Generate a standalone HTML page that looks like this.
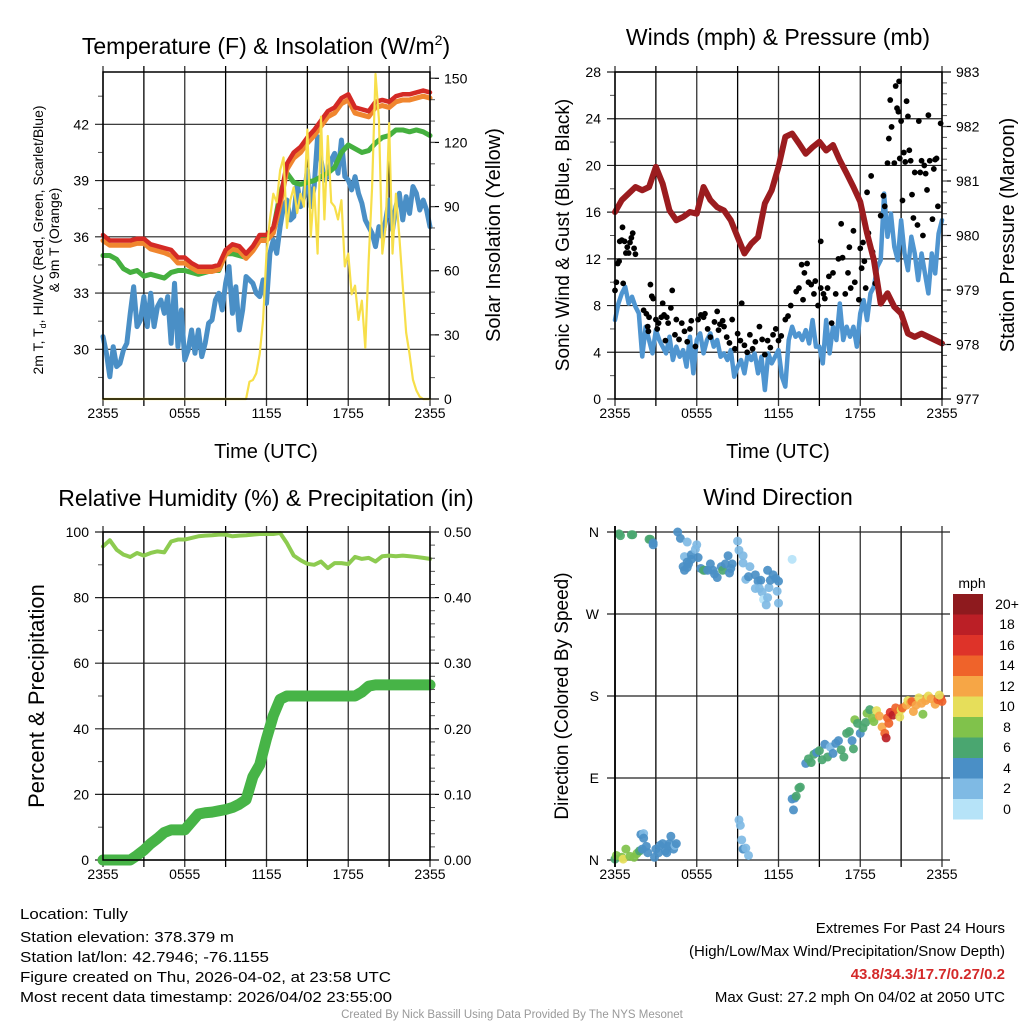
<!DOCTYPE html>
<html><head><meta charset="utf-8"><title>Mesonet Tully</title>
<style>
html,body{margin:0;padding:0;background:#fff;}
svg{display:block;font-family:"Liberation Sans",Arial,sans-serif;}
</style></head>
<body>
<svg id="fig" width="1024" height="1024" viewBox="0 0 1024 1024" xmlns="http://www.w3.org/2000/svg">
<rect x="0" y="0" width="1024" height="1024" fill="#fff"/>
<g id="layer-grid"></g>
<g id="layer-data"></g>
<g id="layer-axes"></g>

<text x="266" y="54" font-size="23" text-anchor="middle">Temperature (F) &amp; Insolation (W/m<tspan dy="-9" font-size="14">2</tspan><tspan dy="9">)</tspan></text>
<text x="778" y="45" font-size="23" text-anchor="middle">Winds (mph) &amp; Pressure (mb)</text>
<text x="266" y="506" font-size="23" text-anchor="middle">Relative Humidity (%) &amp; Precipitation (in)</text>
<text x="778" y="505" font-size="23" text-anchor="middle">Wind Direction</text>

<text transform="translate(43,240) rotate(-90)" font-size="14" text-anchor="middle">2m T, T<tspan font-size="9" dy="3">d</tspan><tspan dy="-3">, HI/WC (Red, Green, Scarlet/Blue)</tspan></text>
<text transform="translate(59,240) rotate(-90)" font-size="14" text-anchor="middle">&amp; 9m T (Orange)</text>
<text transform="translate(500,235) rotate(-90)" font-size="20" text-anchor="middle">Solar Insolation (Yellow)</text>
<text x="266" y="458" font-size="20" text-anchor="middle">Time (UTC)</text>

<text transform="translate(569,235) rotate(-90)" font-size="19" text-anchor="middle">Sonic Wind &amp; Gust (Blue, Black)</text>
<text transform="translate(1014,235) rotate(-90)" font-size="20" text-anchor="middle">Station Pressure (Maroon)</text>
<text x="778" y="458" font-size="20" text-anchor="middle">Time (UTC)</text>

<text transform="translate(44,696) rotate(-90)" font-size="22" text-anchor="middle">Percent &amp; Precipitation</text>
<text transform="translate(568,696) rotate(-90)" font-size="19" text-anchor="middle">Direction (Colored By Speed)</text>

<g>
<text x="972" y="588" font-size="14" text-anchor="middle">mph</text>
<rect x="953" y="594" width="30" height="20.5" fill="#8e1a1e"/>
<rect x="953" y="614.5" width="30" height="20.5" fill="#bb1f26"/>
<rect x="953" y="635" width="30" height="20.5" fill="#de3329"/>
<rect x="953" y="655.5" width="30" height="20.5" fill="#ef632a"/>
<rect x="953" y="676" width="30" height="20.5" fill="#f6a646"/>
<rect x="953" y="696.5" width="30" height="20.5" fill="#e6de5a"/>
<rect x="953" y="717" width="30" height="20.5" fill="#80c24b"/>
<rect x="953" y="737.5" width="30" height="20.5" fill="#4aa670"/>
<rect x="953" y="758" width="30" height="20.5" fill="#4a8fc6"/>
<rect x="953" y="778.5" width="30" height="20.5" fill="#7fbae4"/>
<rect x="953" y="799" width="30" height="20.5" fill="#b6e3f8"/>
<g font-size="14" text-anchor="middle">
<text x="1007" y="609">20+</text>
<text x="1007" y="629">18</text>
<text x="1007" y="650">16</text>
<text x="1007" y="670">14</text>
<text x="1007" y="691">12</text>
<text x="1007" y="711">10</text>
<text x="1007" y="732">8</text>
<text x="1007" y="752">6</text>
<text x="1007" y="773">4</text>
<text x="1007" y="793">2</text>
<text x="1007" y="814">0</text>
</g>
</g>

<g font-size="14.5">
<text x="20" y="919" textLength="108" lengthAdjust="spacingAndGlyphs">Location: Tully</text>
<text x="20" y="942" textLength="214" lengthAdjust="spacingAndGlyphs">Station elevation: 378.379 m</text>
<text x="20" y="962" textLength="249" lengthAdjust="spacingAndGlyphs">Station lat/lon: 42.7946; -76.1155</text>
<text x="20" y="982" textLength="371" lengthAdjust="spacingAndGlyphs">Figure created on Thu, 2026-04-02, at 23:58 UTC</text>
<text x="20" y="1002" textLength="372" lengthAdjust="spacingAndGlyphs">Most recent data timestamp: 2026/04/02 23:55:00</text>
</g>
<g font-size="15" text-anchor="end">
<text x="1005" y="933">Extremes For Past 24 Hours</text>
<text x="1005" y="956">(High/Low/Max Wind/Precipitation/Snow Depth)</text>
<text x="1005" y="979" fill="#d42a2a" font-weight="bold">43.8/34.3/17.7/0.27/0.2</text>
<text x="1005" y="1002">Max Gust: 27.2 mph On 04/02 at 2050 UTC</text>
</g>
<text x="512" y="1018" font-size="11.5" fill="#999" text-anchor="middle">Created By Nick Bassill Using Data Provided By The NYS Mesonet</text>
</svg>

<script>
// ---------- DATA ----------
const timeTickLabels = ['2355','0555','1155','1755','2355'];
const tempTickLabels = [30,33,36,39,42];
const solarTickLabels = [0,30,60,90,120,150];
const windTickLabels = [0,4,8,12,16,20,24,28];
const pressureTickLabels = [977,978,979,980,981,982,983];
const rhTickLabels = [0,20,40,60,80,100];
const precipTickLabels = ['0.00','0.10','0.20','0.30','0.40','0.50'];
const dirTickLabels = ['N','E','S','W','N'];

// half-hourly (49 values, 2355 -> 2355)
const airTemp = [36.1,35.8,35.8,35.8,35.8,35.9,35.9,35.6,35.5,35.4,35.3,34.9,34.9,34.6,34.4,34.4,34.4,34.5,35.3,35.6,35.5,35.1,35.5,36.1,36.1,36.5,38.0,39.9,40.5,40.8,41.3,41.7,42.2,42.7,42.9,43.4,43.6,42.9,42.8,42.7,43.2,43.3,43.2,43.5,43.6,43.6,43.7,43.8,43.7];
const temp9m = [35.8,35.55,35.55,35.55,35.55,35.65,35.65,35.35,35.25,35.15,35.0,34.6,34.6,34.35,34.15,34.15,34.15,34.25,35.05,35.35,35.25,34.85,35.25,35.8,35.8,36.2,37.7,39.6,40.2,40.5,41.0,41.4,41.9,42.4,42.6,43.1,43.3,42.6,42.5,42.4,42.9,43.0,42.9,43.2,43.3,43.3,43.4,43.5,43.4];
const heatIndex = [35.0,35.0,34.8,34.3,34.1,34.2,33.9,34.0,33.9,33.8,34.1,34.2,34.2,34.1,34.0,34.1,34.2,34.2,35.1,35.1,35.0,34.9,35.3,35.9,36.0,36.4,38.3,39.4,38.9,38.8,38.9,39.0,39.2,39.4,39.7,40.5,40.9,40.7,40.5,40.6,41.0,41.3,41.4,41.7,41.7,41.6,41.7,41.6,41.4];
// quarter-hourly (97 values)
const dewPoint = [30.68,29.79,28.54,30.14,29.08,29.25,29.96,30.32,31.92,33.34,31.21,31.56,32.81,31.21,32.99,31.21,32.28,32.63,31.92,32.81,30.32,33.52,30.14,32.1,29.43,29.96,31.03,29.79,31.03,29.61,30.32,31.39,31.56,32.63,32.99,32.1,33.52,34.41,31.92,33.34,31.03,32.1,33.88,33.7,33.52,32.99,32.81,33.7,32.45,35.12,35.83,35.12,36.54,37.61,37.96,36.9,37.08,38.85,37.61,38.14,39.56,37.61,38.68,41.34,40.1,39.03,39.21,40.1,40.45,39.39,41.16,39.21,39.03,38.5,39.21,38.32,37.79,36.9,36.54,36.19,35.48,36.54,36.01,36.9,37.96,36.36,37.61,38.32,36.9,38.14,37.25,38.68,38.32,37.43,37.96,37.43,36.54];
const insolation = [0,0,0,0,0,0,0,0,0,0,0,0,0,0,0,0,0,0,0,0,0,0,0,0,0,0,0,0,0,0,0,0,0,0,0,0,0,0,0,0,0,0,0,8.1,8.9,12,21,37,68,84,96,92,107,113,80,93,99,87,96,90,126,76,99,68,132,84,123,92,90,84,93,62,68,49,53,37,46,24,65,99,152,131,68,81,129,68,96,76,53,31,21,9,4,1,0,0,0];
const windSpeed = [6.76,8.18,9.04,9.61,8.18,8.75,7.9,7.33,3.64,6.19,5.05,3.91,5.9,5.05,4.48,3.91,5.33,3.34,4.48,3.62,4.19,2.77,5.33,2.2,5.05,5.62,3.91,5.05,5.62,4.48,5.05,3.62,3.91,3.34,4.19,1.91,2.77,3.34,2.2,3.91,3.34,3.91,2.2,3.62,0.77,3.91,3.05,3.62,4.19,1.91,1.06,5.05,6.19,5.33,5.62,5.05,5.9,4.76,6.76,4.48,4.48,3.05,6.76,3.91,6.19,5.05,8.18,5.05,6.19,5.33,6.19,4.48,7.33,8.47,6.76,9.04,9.61,11.32,11.89,17.59,13.89,15.88,13.03,11.89,15.31,12.46,11.03,13.89,12.46,10.18,12.46,10.75,9.04,12.46,10.75,14.17,15.31];
const pressure = [980.43,980.65,980.77,980.89,980.83,980.89,981.26,980.95,980.46,980.28,980.34,980.43,980.40,980.89,980.65,980.52,980.46,980.28,979.97,979.67,979.85,979.97,980.59,980.83,981.26,981.81,981.87,981.69,981.50,981.62,981.72,981.56,981.66,981.38,981.14,980.89,980.62,980.04,979.55,978.75,978.94,978.69,978.57,978.20,978.14,978.20,978.14,978.08,978.02];
const gustHours = [0,0.1,0.2,0.3,0.35,0.5,0.55,0.6,0.7,0.8,0.9,1.0,1.1,1.2,1.3,1.4,1.5,2.1,2.3,2.4,2.45,2.5,2.6,2.7,2.8,3.0,3.1,3.2,3.4,3.5,3.6,3.7,3.8,3.9,4.1,4.2,4.4,4.5,4.7,4.9,5.1,5.3,5.5,5.6,5.9,6.1,6.3,6.5,6.6,6.8,7.0,7.3,7.5,7.6,7.7,7.9,8.0,8.2,8.4,8.6,8.8,9.0,9.2,9.3,9.5,9.7,9.9,10.1,10.3,10.6,10.8,11.0,11.2,11.4,11.6,11.8,12.0,12.2,12.5,12.7,12.9,13.3,13.5,13.7,13.8,13.9,14.1,14.2,14.4,14.6,14.7,14.9,15.1,15.1,15.3,15.4,15.6,15.7,15.9,16.0,16.2,16.4,16.6,16.7,16.9,17.1,17.2,17.3,17.5,17.6,17.9,18.0,18.1,18.2,18.3,18.4,18.5,18.6,18.8,18.9,19.1,19.5,19.7,19.8,20.0,20.1,20.3,20.2,20.5,20.6,20.7,20.8,20.9,21.0,21.1,21.2,21.3,21.4,21.5,21.6,21.7,21.8,21.9,22.0,22.2,22.3,22.4,22.5,22.6,22.7,22.8,22.9,23.0,23.1,23.3,23.4,23.5,23.6,23.7,23.9,20.85];
const gustSpeeds = [9.3,10,11.6,11.8,13.5,13.6,14.7,9.9,13.5,12.5,13,12.5,13.4,13.8,14.2,12.9,12.4,7.6,7.3,6.2,5.8,7.0,9.8,8.8,8.6,6.8,6.0,6.5,7.0,8.2,7.2,5.0,7.0,6.5,7.8,9.3,5.5,6.8,5.1,6.5,5.8,4.9,6.0,6.7,4.5,6.8,7.2,7.0,7.3,6.0,5.3,6.6,7.5,5.9,6.4,6.7,6.2,5.3,4.8,6.8,4.3,5.6,5.0,8.2,4.6,4.0,5.5,4.3,4.9,6.2,5.1,3.8,5.0,4.4,5.5,6.0,5.0,5.4,6.8,7.1,8.0,9.2,9.5,11.5,8.5,10.8,11.6,10.0,9.8,9.0,10.1,8.0,13.5,9.5,9.0,8.6,9.5,10.5,6.5,10.8,9.0,12.0,15.0,12.1,9.0,10.8,13.0,9.5,14.4,10.0,8.5,12.9,11.2,13.4,11.8,9.5,17.7,14.2,19.1,12.6,9.9,15.7,17.4,16.5,20.2,22.3,23.3,25.6,20.2,26.8,24.9,24.6,20.6,23.8,17.0,21.1,20.3,25.5,24.2,21.3,20.4,17.5,15.5,19.4,14.9,23.8,19.4,20.4,14.0,20.0,19.3,17.9,24.3,20.4,15.4,19.7,20.5,20.6,16.5,23.6,27.2];
const relHumidity = [95.6,97.5,94.6,93.1,92.4,93.6,92.8,93.6,94.1,93.8,97.1,97.7,97.7,98.2,98.7,98.9,99.0,99.2,99.2,98.7,98.9,99.0,99.2,99.4,99.4,99.4,99.7,96.6,92.8,91.4,90.3,90.0,91.0,89.0,90.5,90.5,90.2,92.4,91.8,92.1,91.0,92.6,92.8,92.6,92.8,92.6,92.4,92.1,91.8];
const precipAccum = [0,0,0,0,0,0.007,0.015,0.025,0.033,0.042,0.046,0.046,0.046,0.058,0.07,0.072,0.073,0.075,0.077,0.08,0.085,0.092,0.127,0.145,0.185,0.22,0.245,0.25,0.25,0.25,0.25,0.25,0.25,0.25,0.25,0.25,0.25,0.25,0.256,0.265,0.267,0.267,0.267,0.267,0.267,0.267,0.267,0.267,0.267];
const dirHours = [0.3,0.4,1.2,1.3,2.5,2.6,2.8,2.8,4.6,4.8,5.3,5.1,5.3,5.6,5.0,5.1,5.3,5.4,5.6,6.0,5.9,6.1,6.3,6.5,6.6,6.8,7.0,7.2,7.5,7.3,7.8,7.9,8.1,8.3,8.4,8.5,8.6,9.0,9.1,9.4,9.4,9.6,9.8,9.9,10.3,10.5,10.7,10.3,10.6,10.8,10.9,11.1,11.2,11.3,11.2,11.4,11.6,11.8,12.0,11.9,12.0,13.0,
 0,0.1,0.5,0.6,0.8,1.1,1.4,1.6,1.8,2.0,1.9,2.1,2.1,2.3,2.4,2.9,3.0,3.2,3.3,3.5,3.7,3.8,3.9,4.0,4.1,4.3,4.4,4.5,
 9.1,9.2,9.3,9.4,9.6,9.8,
 13.0,13.1,13.2,13.3,13.5,13.6,14.0,14.2,14.4,14.6,14.8,15.0,15.2,15.4,15.6,15.8,16.0,16.2,16.4,16.6,16.8,17.0,17.2,17.4,17.5,17.6,17.8,18.0,18.2,18.4,18.5,18.7,18.9,19.0,19.2,19.4,19.6,19.8,19.9,20.0,20.1,20.2,20.4,20.6,20.8,20.9,21.0,21.1,21.4,21.5,21.7,21.8,21.9,22.1,22.3,22.5,22.6,22.8,22.9,23.0,23.2,23.5,23.7,23.9,24.0,23.8];
const dirDegrees = [358,356,357,357,352,352,346,348,360,353,349,333,327,335,322,318,321,325,330,346,341,332,320,318,318,318,325,318,310,314,322,318,325,334,315,320,325,350,340,334,326,308,311,322,313,306,307,298,298,294,286,280,288,299,318,307,313,309,306,295,282,330,
 1,5,3,1,12,4,3,7,10,12,28,29,24,15,8,3,12,8,16,18,10,8,15,18,26,12,16,18,
 44,38,22,12,13,5,
 67,55,68,70,79,80,106,111,107,116,118,120,110,127,113,124,117,128,131,121,113,139,141,131,122,154,150,139,145,151,161,165,156,152,164,158,146,139,134,156,150,162,159,167,163,157,165,167,170,175,173,174,163,170,178,172,160,175,178,180,177,171,176,178,174,181];
const dirSpeeds = [7,7,7,7,6,6,4,4,4,4,2,2,4,4,4,4,4,4,4,2,2,4,4,6,6,4,4,4,4,4,4,6,4,4,4,4,4,2,2,2,2,2,4,2,4,4,4,2,2,2,0,2,2,2,4,4,4,4,4,2,2,0,
 6,8,8,10,8,8,8,8,6,4,4,2,4,4,4,4,4,4,4,4,4,4,4,4,4,4,2,4,
 2,2,2,4,2,2,
 4,4,4,6,6,6,4,6,6,6,4,6,6,4,6,2,4,4,4,6,6,6,6,4,6,8,6,4,6,6,8,6,8,8,10,12,12,14,18,14,14,16,18,14,14,10,10,14,12,10,12,14,12,12,10,12,8,12,12,10,12,12,14,16,14,10];
const speedColors = ['#b6e3f8','#7fbae4','#4a8fc6','#4aa670','#80c24b','#e6de5a','#f6a646','#ef632a','#de3329','#bb1f26','#8e1a1e'];

// ---------- SCALES ----------
const NS = 'http://www.w3.org/2000/svg';
const L = {x0:103, x1:430}, R = {x0:615, x1:942};
const TOP = {y0:72, y1:399}, BOT = {y0:532, y1:860};
const xL = h => L.x0 + h * (L.x1 - L.x0) / 24;
const xR = h => R.x0 + h * (R.x1 - R.x0) / 24;
const yTemp = t => 399 - (t - 27.35) * 18.75;
const ySolar = s => 399 - s * 2.138;
const yWind = v => 399 - v * 327 / 28;
const yPres = p => 399 - (p - 977) * 327 / 6;
const yRH = r => 860 - r * 3.28;
const yPrecip = p => 860 - p * 656;
const yDir = d => 860 - d * 328 / 360;

const gGrid = document.getElementById('layer-grid');
const gData = document.getElementById('layer-data');
const gAxes = document.getElementById('layer-axes');
function mk(tag, attrs, parent){
  const e = document.createElementNS(NS, tag);
  for (const k in attrs) e.setAttribute(k, attrs[k]);
  parent.appendChild(e);
  return e;
}
function seriesPath(vals, xf, yf){
  const n = vals.length;
  let d = '';
  vals.forEach((v,i)=>{ const h = i*24/(n-1); d += (i?'L':'M') + xf(h).toFixed(2) + ',' + yf(v).toFixed(2); });
  return d;
}

// ---------- AXES / GRID ----------
function panel(box, yb, xf, leftVals, leftF, leftMinor, rightVals, rightF, rightMinor, key){
  for (let h = 0; h <= 24; h += 3){
    const ln = mk('line', {x1:xf(h), x2:xf(h), y1:yb.y0-6, y2:yb.y1+7, stroke:(h%6===0?'#333':'#000'), 'stroke-width':1.3}, gGrid);
    
    
  }
  timeTickLabels.forEach((lab,i)=>{
    const t = mk('text', {x:xf(i*6), y:yb.y1+19, 'font-size':14, 'text-anchor':'middle'}, gAxes);
    t.textContent = lab;
    
    
  });
  leftVals.forEach((v)=>{
    const y = leftF(v);
    const ln = mk('line', {x1:box.x0-8, x2:box.x1, y1:y, y2:y, stroke:'#222', 'stroke-width':1.2}, gGrid);
    
    
    const t = mk('text', {x:box.x0-14, y:y+5, 'font-size':14, 'text-anchor':'end'}, gAxes);
    t.textContent = v;
    
    
  });
  leftMinor.forEach((v)=>{
    const y = leftF(v);
    const ln = mk('line', {x1:box.x0-5, x2:box.x0, y1:y, y2:y, stroke:'#555', 'stroke-width':1}, gAxes);
    
    
  });
  if (rightVals){
    rightVals.forEach((v)=>{
      const y = rightF(typeof v === 'string' ? parseFloat(v) : v);
      const ln = mk('line', {x1:box.x1, x2:box.x1+9, y1:y, y2:y, stroke:'#000', 'stroke-width':1.2}, gAxes);
      
      
      const t = mk('text', {x:box.x1+14, y:y+5, 'font-size':14, 'text-anchor':'start'}, gAxes);
      t.textContent = v;
      
      
    });
    rightMinor.forEach((v)=>{
      const y = rightF(v);
      const ln = mk('line', {x1:box.x1, x2:box.x1+5, y1:y, y2:y, stroke:'#555', 'stroke-width':1}, gAxes);
      
      
    });
  }
  const fr = mk('rect', {x:box.x0, y:yb.y0, width:box.x1-box.x0, height:yb.y1-yb.y0, fill:'none', stroke:'#000', 'stroke-width':1.5}, gAxes);
  
  
}
function range(a,b,s){ const r=[]; for(let v=a; v<=b+1e-9; v+=s) r.push(+v.toFixed(3)); return r; }

panel(L, TOP, xL, tempTickLabels, yTemp, range(28.5,43.5,3), solarTickLabels, ySolar, range(10,150,10), 'temperature');
panel(R, TOP, xR, windTickLabels, yWind, range(2,26,4), pressureTickLabels, yPres, range(977.2,982.8,0.2), 'wind');
panel(L, BOT, xL, rhTickLabels, yRH, range(10,90,20), precipTickLabels, yPrecip, range(0.02,0.48,0.02), 'humidity');
(function(){
  for (let h = 0; h <= 24; h += 3){
    const ln = mk('line', {x1:xR(h), x2:xR(h), y1:BOT.y0-6, y2:BOT.y1+7, stroke:(h%6===0?'#333':'#000'), 'stroke-width':1.3}, gGrid);
    
    
  }
  timeTickLabels.forEach((lab,i)=>{
    const t = mk('text', {x:xR(i*6), y:BOT.y1+19, 'font-size':14, 'text-anchor':'middle'}, gAxes);
    t.textContent = lab;
    
    
  });
  dirTickLabels.forEach((lab,i)=>{
    const y = yDir(i*90);
    const ln = mk('line', {x1:R.x0-8, x2:R.x1+8, y1:y, y2:y, stroke:'#222', 'stroke-width':1.2}, gGrid);
    
    
    const t = mk('text', {x:R.x0-16, y:y+5, 'font-size':14, 'text-anchor':'end'}, gAxes);
    t.textContent = lab;
    
    
  });
  const ax = mk('line', {x1:R.x0, x2:R.x0, y1:BOT.y0-6, y2:BOT.y1+7, stroke:'#000', 'stroke-width':1.8}, gAxes);
  
  
})();

// ---------- SERIES ----------
function drawLine(vals, xf, yf, color, w, name){
  const p = mk('path', {d:seriesPath(vals,xf,yf), fill:'none', stroke:color, 'stroke-width':w, 'stroke-linejoin':'round', 'stroke-linecap':'round'}, gData);
  
  
}
drawLine(dewPoint, xL, yTemp, '#4a8fc6', 5, 'dewpoint-line');
drawLine(heatIndex, xL, yTemp, '#45b03f', 5, 'heat-index-line');
drawLine(temp9m, xL, yTemp, '#f0862f', 5, 'temp-9m-line');
drawLine(airTemp, xL, yTemp, '#d42a25', 4.5, 'air-temp-line');
drawLine(insolation, xL, ySolar, '#f7df4a', 2.2, 'insolation-line');
drawLine(windSpeed, xR, yWind, '#4f95d0', 4.5, 'wind-speed-line');
gustHours.forEach((h,i)=>{
  const c = mk('circle', {cx:xR(h), cy:yWind(gustSpeeds[i]), r:2.9, fill:'#000'}, gData);
  
  
});
drawLine(pressure, xR, yPres, '#9b1c1f', 6, 'pressure-line');
drawLine(relHumidity, xL, yRH, '#8dcb50', 4, 'relative-humidity-line');
drawLine(precipAccum, xL, yPrecip, '#47b447', 11, 'precipitation-line');
dirHours.forEach((h,i)=>{
  const bin = Math.max(0, Math.min(10, Math.floor(dirSpeeds[i]/2)));
  const c = mk('circle', {cx:xR(h), cy:yDir(dirDegrees[i]), r:4.5, fill:speedColors[bin], 'fill-opacity':0.92}, gData);
  
  
});
</script>
</body></html>
